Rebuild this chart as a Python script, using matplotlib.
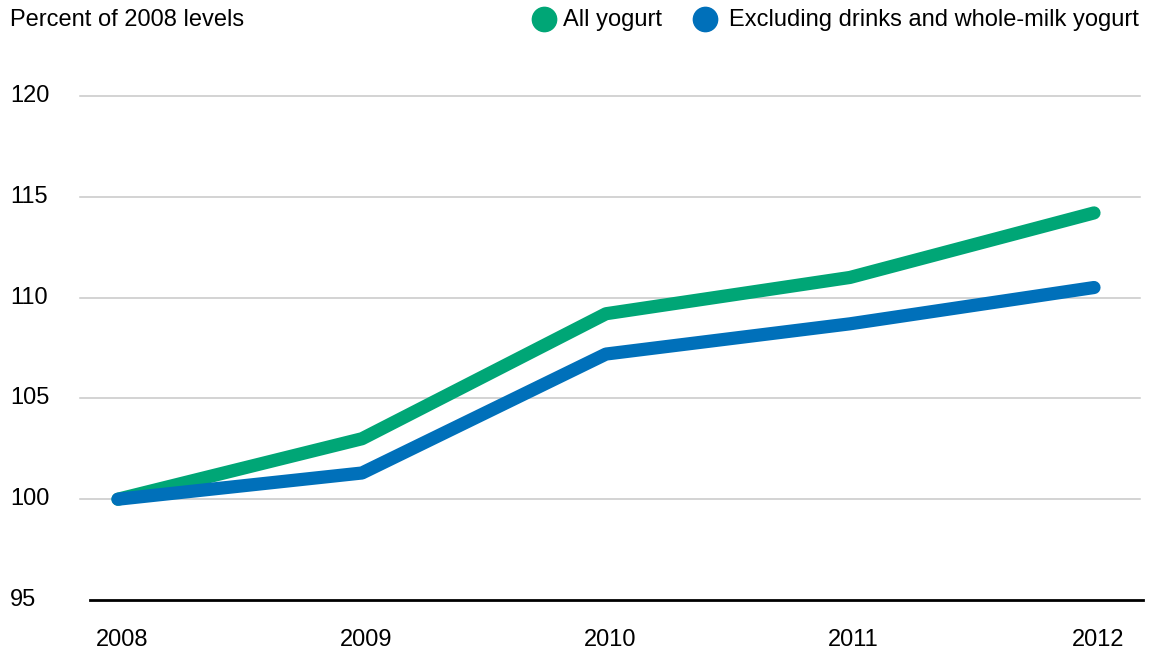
import matplotlib.pyplot as plt
from matplotlib.lines import Line2D

plt.rcParams['font.family'] = ['Liberation Sans', 'DejaVu Sans']

years = [2008, 2009, 2010, 2011, 2012]
all_yogurt = [100, 103.0, 109.2, 111.0, 114.2]
excl_drinks = [100, 101.3, 107.2, 108.7, 110.5]
yticks = [95, 100, 105, 110, 115, 120]

green = '#00a676'
blue = '#0070ba'
fs = 17

W, H = 1151, 658
fig = plt.figure(figsize=(W / 100, H / 100), dpi=100)
# axes placed in pixels: gridlines from x=80 to 1140, 95 at y=600, 120 at y=96
ax = fig.add_axes([80 / W, 1 - 600 / H, 1060 / W, 504 / H])
ax.set_xlim(2008 - 38 / 244, 2012 + 46 / 244)
ax.set_ylim(95, 120)
ax.axis('off')

for v in yticks[1:]:
    ax.axhline(v, color='#c8c8c8', lw=1.1, zorder=1, clip_on=False)
for v in yticks:
    ax.text(-70 / 1060, v, str(v), transform=ax.get_yaxis_transform(),
            ha='left', va='center', fontsize=fs, color='black')
ax.axhline(95, xmin=10 / 1060, xmax=1063 / 1060, color='black', lw=2, clip_on=False, zorder=2)

for y in years:
    ax.text(y + 0.015, 93.0, str(y), ha='center', va='center', fontsize=fs,
            color='black')

ax.plot(years, all_yogurt, color=green, lw=9.5, solid_capstyle='round',
        solid_joinstyle='round', zorder=3, clip_on=False)
ax.plot(years, excl_drinks, color=blue, lw=9.5, solid_capstyle='round',
        solid_joinstyle='round', zorder=4, clip_on=False)

fig.text(10 / W, 1 - 20 / H, 'Percent of 2008 levels', ha='left', va='center',
         fontsize=fs, color='black')

# legend
fig.add_artist(Line2D([544 / W], [1 - 19 / H], marker='o', markersize=17.5,
                      color=green, transform=fig.transFigure))
fig.text(563 / W, 1 - 20 / H, 'All yogurt', ha='left', va='center',
         fontsize=fs, color='black')
fig.add_artist(Line2D([705 / W], [1 - 19 / H], marker='o', markersize=17.5,
                      color=blue, transform=fig.transFigure))
fig.text(1139 / W, 1 - 20 / H, 'Excluding drinks and whole-milk yogurt',
         ha='right', va='center', fontsize=fs, color='black')

fig.savefig('out.png', dpi=100)
